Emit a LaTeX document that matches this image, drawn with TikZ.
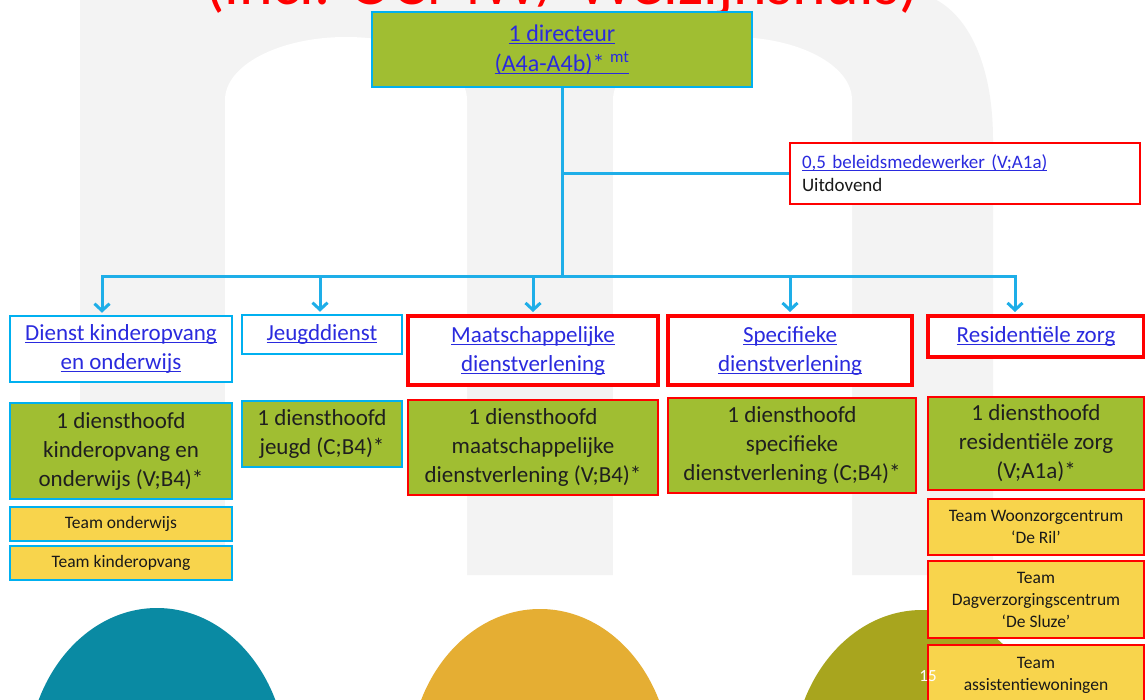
\documentclass[tikz,border=0pt]{standalone}
\usepackage{fontspec}
\setmainfont{Carlito}
\usetikzlibrary{arrows.meta}
\definecolor{cyanb}{HTML}{00B0F0}
\definecolor{lineb}{HTML}{1EAEE8}
\definecolor{boxgreen}{HTML}{A0BE32}
\definecolor{teamyel}{HTML}{F8D44C}
\definecolor{redb}{HTML}{FF0000}
\definecolor{linkblue}{HTML}{2A2ADE}
\definecolor{bggray}{HTML}{F3F3F3}
\definecolor{eggteal}{HTML}{0A8AA3}
\definecolor{eggorange}{HTML}{E5AE33}
\definecolor{eggolive}{HTML}{A8A51E}
\newsavebox\lkbox
\newcommand\lk[1]{\sbox\lkbox{#1}\rlap{\rule[-2.6pt]{\wd\lkbox}{1.1pt}}\usebox\lkbox}
\tikzset{
  base/.style={inner sep=0pt, align=center, font=\fontsize{23}{29}\selectfont},
  cyanbox/.style={base, draw=cyanb, line width=2.5pt},
  redthick/.style={base, draw=redb, line width=4pt},
  redthin/.style={base, draw=redb, line width=2.5pt},
  greenfill/.style={fill=boxgreen, text=black!88},
  whitefill/.style={fill=white, text=linkblue},
  teamfill/.style={fill=teamyel, text=black!90, font=\fontsize{17.5}{22}\selectfont},
  conn/.style={draw=lineb, line width=3pt},
  arr/.style={conn, shorten >=2pt, -{Straight Barb[length=7pt,width=15pt]}},
}
\begin{document}
\begin{tikzpicture}[x=1pt,y=-1pt]
\useasboundingbox (0,0) rectangle (1145,700);
\clip (0,0) rectangle (1145,700);
\fill[white] (0,0) rectangle (1145,700);
% background "m"
\fill[bggray] (80,-5) -- (80,575) -- (993,575) -- (993,140) .. controls (993,60) and (965,8) .. (925,-5) -- cycle;
\fill[white] (225,576) -- (225,100) arc[start angle=180,end angle=0,x radius=121pt,y radius=63pt] -- (467,576) -- cycle;
\fill[white] (613,576) -- (613,100) arc[start angle=180,end angle=0,x radius=119.5pt,y radius=63pt] -- (852,576) -- cycle;
% eggs
\fill[eggteal] (157,765) ellipse [x radius=130pt, y radius=157pt];
\fill[eggorange] (540,766) ellipse [x radius=131pt, y radius=157pt];
\fill[eggolive] (922,767) ellipse [x radius=130pt, y radius=157pt];
% title (cut off)
\node[anchor=base west, inner sep=0pt, text=redb, font=\fontsize{64}{64}\selectfont] (title) at (205,5) {(incl. OCMW/ Welzijnshuis)};
% director
\node[cyanbox, greenfill, text=linkblue, minimum width=380pt, minimum height=75pt, font=\fontsize{24}{30}\selectfont] (dir) at (562,49.5)
  {\lk{1 directeur}\\\lk{(A4a-A4b)* \textsuperscript{mt}}};
% beleidsmedewerker
\node[draw=redb, line width=2pt, fill=white, inner ysep=0pt, inner xsep=12pt, minimum height=61pt, text width=326pt, align=left, font=\fontsize{19}{23}\selectfont, text=black!90] (bel) at (965,173.5)
  {{\color{linkblue}\lk{0,5 beleidsmedewerker (V;A1a)}}\\Uitdovend};
% level 1
\node[cyanbox, whitefill, minimum width=222pt, minimum height=66pt] (dienst) at (121,349) {\lk{Dienst kinderopvang}\\\lk{en onderwijs}};
\node[cyanbox, whitefill, minimum width=160pt, minimum height=39pt] (jeugd) at (322,334.5) {\lk{Jeugddienst}};
\node[redthick, whitefill, minimum width=250pt, minimum height=69pt] (maat) at (533,350.5) {\lk{Maatschappelijke}\\\lk{dienstverlening}};
\node[redthick, whitefill, minimum width=244pt, minimum height=69pt] (spec) at (790,350.5) {\lk{Specifieke}\\\lk{dienstverlening}};
\node[redthick, whitefill, minimum width=216pt, minimum height=41pt] (resid) at (1036,336.5) {\lk{Residentiële zorg}};
% level 2
\node[cyanbox, greenfill, minimum width=222pt, minimum height=96pt] (dhk) at (121,451) {1 diensthoofd\\kinderopvang en\\onderwijs (V;B4)*};
\node[cyanbox, greenfill, minimum width=160pt, minimum height=66pt] (dhj) at (322,434) {1 diensthoofd\\jeugd (C;B4)*};
\node[redthin, greenfill, minimum width=250pt, minimum height=95pt] (dhm) at (533,447.5) {1 diensthoofd\\maatschappelijke\\dienstverlening (V;B4)*};
\node[redthin, greenfill, minimum width=248pt, minimum height=95pt] (dhs) at (792,445.5) {1 diensthoofd\\specifieke\\dienstverlening (C;B4)*};
\node[redthin, greenfill, minimum width=216pt, minimum height=93pt] (dhr) at (1036,443.5) {1 diensthoofd\\residentiële zorg\\(V;A1a)*};
% teams
\node[cyanbox, teamfill, minimum width=222pt, minimum height=34pt] (tond) at (121,524) {Team onderwijs};
\node[cyanbox, teamfill, minimum width=222pt, minimum height=34pt] (tkin) at (121,563) {Team kinderopvang};
\node[redthin, teamfill, minimum width=216pt, minimum height=56pt] (twz) at (1036,527) {Team Woonzorgcentrum\\‘De Ril’};
\node[redthin, teamfill, minimum width=216pt, minimum height=77pt] (tdv) at (1036,599.5) {Team\\Dagverzorgingscentrum\\‘De Sluze’};
\node[redthin, teamfill, minimum width=216pt, minimum height=60pt] (tas) at (1036,675) {Team\\assistentiewoningen};
% page number
\node[text=white, font=\fontsize{17}{17}\selectfont, inner sep=0pt] (pnum) at (928,676) {15};
% connectors
\coordinate (trunk) at (562,277);
\coordinate (b1) at (102,277);
\coordinate (b2) at (320,277);
\coordinate (b3) at (533,277);
\coordinate (b4) at (790,277);
\coordinate (b5) at (1015,277);
\draw[conn] (dir.south) -- (trunk);
\draw[conn] (dir.south |- bel.west) -- (bel.west);
\draw[conn, line cap=rect] (b1) -- (b5);
\draw[arr] (b1) -- (b1 |- dienst.north);
\draw[arr] (b2) -- (b2 |- jeugd.north);
\draw[arr] (b3) -- (b3 |- maat.north);
\draw[arr] (b4) -- (b4 |- spec.north);
\draw[arr] (b5) -- (b5 |- resid.north);
\end{tikzpicture}
\end{document}
